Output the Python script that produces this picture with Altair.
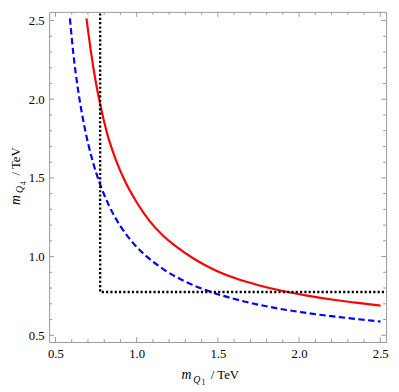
import altair as alt
import pandas as pd

# ---- data (smoothed by hand) ----
red_x = [0.691, 0.72, 0.75, 0.78, 0.82, 0.87, 0.93, 1.00, 1.08, 1.16,
         1.25, 1.35, 1.47, 1.60, 1.75, 1.90, 2.05, 2.20, 2.35, 2.502]
red_y = [2.514, 2.29, 2.10, 1.945, 1.775, 1.62, 1.475, 1.345, 1.225, 1.135,
         1.058, 0.988, 0.920, 0.865, 0.818, 0.781, 0.752, 0.727, 0.707, 0.688]

blue_x = [0.589, 0.61, 0.64, 0.68, 0.73, 0.775, 0.83, 0.90, 0.98, 1.07,
          1.17, 1.30, 1.47, 1.65, 1.85, 2.05, 2.25, 2.502]
blue_y = [2.514, 2.29, 2.054, 1.818, 1.603, 1.459, 1.323, 1.194, 1.084, 0.993,
          0.916, 0.841, 0.771, 0.718, 0.674, 0.641, 0.615, 0.587]

bound_x = [0.775, 0.775, 2.6]
bound_y = [2.6, 0.775, 0.775]
bound_order = [0, 1, 2]

major_ticks = [0.5, 1.0, 1.5, 2.0, 2.5]
minor_ticks = [0.6, 0.7, 0.8, 0.9, 1.1, 1.2, 1.3, 1.4, 1.6, 1.7, 1.8, 1.9,
               2.1, 2.2, 2.3, 2.4]

# ---- layout ----
W, H = 344, 337
FONT = "Liberation Serif, Times New Roman, serif"
FRAME = "#999999"

xs = alt.Scale(domain=[0.461, 2.536], nice=False, zero=False)
ys = alt.Scale(domain=[0.457, 2.555], nice=False, zero=False)

xaxis = alt.Axis(values=major_ticks, format=".1f", domain=False, ticks=False,
                 grid=False, labelFont=FONT, labelFontSize=13, labelColor="black",
                 labelPadding=6, title=None)
yaxis = alt.Axis(values=major_ticks, format=".1f", domain=False, ticks=False,
                 grid=False, labelFont=FONT, labelFontSize=13, labelColor="black",
                 labelPadding=5, title=None)

red_df = pd.DataFrame({"x": red_x, "y": red_y})
blue_df = pd.DataFrame({"x": blue_x, "y": blue_y})
bound_df = pd.DataFrame({"x": bound_x, "y": bound_y, "o": bound_order})
maj_df = pd.DataFrame({"v": major_ticks})
min_df = pd.DataFrame({"v": minor_ticks})

X = alt.X("x:Q", scale=xs, axis=xaxis)
Y = alt.Y("y:Q", scale=ys, axis=yaxis)

red = alt.Chart(red_df).mark_line(color="#ff0000", strokeWidth=2.2,
                                  interpolate="monotone", clip=True).encode(x=X, y=Y)
blue = alt.Chart(blue_df).mark_line(color="#0000ff", strokeWidth=2.2, strokeDash=[6.5, 3.5],
                                    interpolate="monotone", clip=True).encode(x=X, y=Y)
bound = alt.Chart(bound_df).mark_line(color="#000000", strokeWidth=2.4,
                                      strokeDash=[2.2, 2.2], clip=True).encode(
    x=X, y=Y, order="o:Q")


def xticks(df, ln):
    base = alt.Chart(df).mark_rule(color=FRAME, strokeWidth=1)
    xv = alt.X("v:Q", scale=xs, axis=xaxis)
    bot = base.encode(x=xv, y=alt.value(H), y2=alt.value(H - ln))
    top = base.encode(x=xv, y=alt.value(0), y2=alt.value(ln))
    return [bot, top]


def yticks(df, ln):
    base = alt.Chart(df).mark_rule(color=FRAME, strokeWidth=1)
    yv = alt.Y("v:Q", scale=ys, axis=yaxis)
    left = base.encode(y=yv, x=alt.value(0), x2=alt.value(ln))
    right = base.encode(y=yv, x=alt.value(W), x2=alt.value(W - ln))
    return [left, right]


one = pd.DataFrame({"k": [0]})


def label(txt, x, y, size, italic=False, angle=0):
    kw = dict(font=FONT, fontSize=size, color="black", align="left",
              baseline="alphabetic")
    if italic:
        kw["fontStyle"] = "italic"
    if angle:
        kw["angle"] = angle
    return alt.Chart(one).mark_text(**kw).encode(
        x=alt.value(x), y=alt.value(y), text=alt.value(txt))


# x title: m_{Q_1} / TeV
xt = [
    label("m", 135, 375, 14, italic=True),
    label("Q", 147, 378.5, 10, italic=True),
    label("1", 155.5, 381, 8),
    label("/ TeV", 165, 375, 13),
]
# y title (rotated, reads bottom to top): m_{Q_4} / TeV
yt = [
    label("m", -30, 197, 14, italic=True, angle=270),
    label("Q", -26.5, 185, 10, italic=True, angle=270),
    label("4", -24, 177, 8, angle=270),
    label("/ TeV", -30, 167, 13, angle=270),
]

layers = (xticks(maj_df, 5) + xticks(min_df, 3) + yticks(maj_df, 5) + yticks(min_df, 3)
          + [red, blue, bound] + xt + yt)

chart = alt.layer(*layers).properties(
    width=W, height=H,
    autosize=alt.AutoSizeParams(type="none"),
    padding={"left": 42, "top": 0, "right": 5, "bottom": 45},
).configure_view(stroke=FRAME, strokeWidth=1)

chart.save("out.html", embed_options={"renderer": "svg", "actions": False})
